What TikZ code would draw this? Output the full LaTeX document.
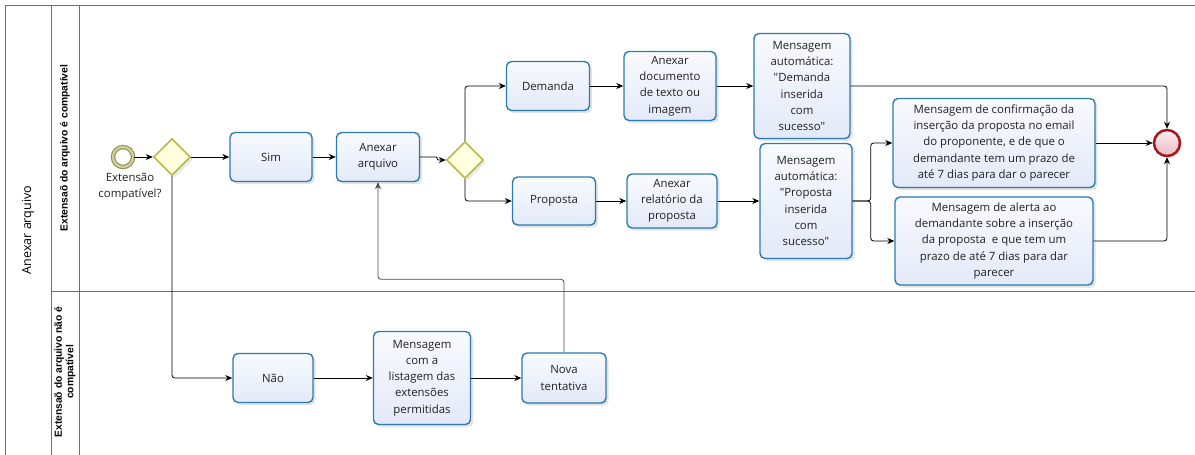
\documentclass[tikz,border=0pt]{standalone}
\usepackage{fontspec}
\setmainfont{Open Sans}
\newfontfamily\lanefont{Liberation Sans}
\usetikzlibrary{arrows.meta,shadows,shapes.geometric,calc}

\definecolor{taskborder}{HTML}{2B7BB0}
\definecolor{tasktop}{HTML}{F8FAFE}
\definecolor{taskbot}{HTML}{E3E9F8}
\definecolor{gwfill}{HTML}{FFFFE0}
\definecolor{gwborder}{HTML}{B3B333}
\definecolor{startborder}{HTML}{8E8E50}
\definecolor{startband}{HTML}{D2D2A0}
\definecolor{endborder}{HTML}{A01820}
\definecolor{endtop}{HTML}{FBEEF0}
\definecolor{endbot}{HTML}{EBBAC2}
\definecolor{laneline}{HTML}{6E6E6E}
\definecolor{txt}{HTML}{222222}
\definecolor{loopline}{HTML}{4A4A4A}

\tikzset{
  task/.style={draw=taskborder, line width=1.4pt, rounded corners=5pt,
    top color=tasktop, bottom color=taskbot,
    drop shadow={opacity=0.22, shadow xshift=2.5pt, shadow yshift=-2.5pt},
    align=center, font=\fontsize{11.4}{16.2}\selectfont, text=txt, inner sep=2pt},
  gateway/.style={diamond, aspect=1, draw=gwborder, line width=1.4pt, fill=gwfill,
    minimum width=37pt, minimum height=37pt, inner sep=0pt,
    drop shadow={opacity=0.18, shadow xshift=2.5pt, shadow yshift=-2.5pt}},
  startev/.style={circle, draw=startborder, line width=1.1pt, double=startband,
    double distance=2.2pt, fill=white, minimum size=20pt, inner sep=0pt},
  endev/.style={circle, draw=endborder, line width=2.5pt, top color=endtop,
    bottom color=endbot, minimum size=26pt, inner sep=0pt,
    drop shadow={opacity=0.2, shadow xshift=2pt, shadow yshift=-2pt}},
  flow/.style={draw=black, line width=0.8pt, rounded corners=3pt,
    -{Stealth[length=7pt,width=6pt]}},
  lane/.style={draw=laneline, line width=0.9pt},
  lanelabel/.style={rotate=90, font=\lanefont\bfseries\fontsize{10.3}{11.5}\selectfont,
    text=black, align=center},
}

\begin{document}
\begin{tikzpicture}[x=1pt,y=-1pt]
\useasboundingbox (0,0) rectangle (1195,455);

% pool and lanes
\draw[lane] (5,5) -- (1195,5);
\draw[lane] (5,5) -- (5,455);
\draw[lane] (51,5) -- (51,455);
\draw[lane] (79,5) -- (79,455);
\draw[lane] (51,291) -- (1195,291);
\node[rotate=90, font=\fontsize{12.5}{14}\selectfont, text=black] (pool) at (28,230) {Anexar arquivo};
\node[lanelabel] (lane1) at (65,148) {Extensaõ do arquivo é compatível};
\node[lanelabel] (lane2) at (65,372) {Extensaõ do arquivo não é\\compatível};

% events and gateways
\node[startev] (start) at (123,157) {};
\node[gateway] (gw1) at (172,157) {};
\node[align=center, font=\fontsize{11.4}{16}\selectfont, text=txt] (gwlabel) at (130,187) {Extensão\\compatível?};
\node[gateway] (gw2) at (465,160) {};
\node[endev] (end) at (1167,143) {};

% tasks
\node[task, minimum width=82pt, minimum height=49pt] (sim) at (271,157) {Sim};
\node[task, minimum width=83pt, minimum height=49pt] (anexar) at (378,157) {Anexar\\arquivo};
\node[task, minimum width=83pt, minimum height=49pt] (demanda) at (548,86) {Demanda};
\node[task, minimum width=92pt, minimum height=69pt] (anexdoc) at (670,86) {Anexar\\documento\\de texto ou\\imagem};
\node[task, minimum width=96pt, minimum height=105pt] (msgdem) at (802,86) {Mensagem\\automática:\\\textquotedbl Demanda\\inserida\\com\\sucesso\textquotedbl};
\node[task, minimum width=83pt, minimum height=48pt] (proposta) at (554,201) {Proposta};
\node[task, minimum width=90pt, minimum height=54pt] (anexrel) at (672,201) {Anexar\\relatório da\\proposta};
\node[task, minimum width=92pt, minimum height=115pt] (msgprop) at (806,201) {Mensagem\\automática:\\\textquotedbl Proposta\\inserida\\com\\sucesso\textquotedbl};
\node[task, minimum width=202pt, minimum height=89pt] (confirm) at (994,143) {Mensagem de confirmação da\\inserção da proposta no email\\do proponente, e de que o\\demandante tem um prazo de\\até 7 dias para dar o parecer};
\node[task, minimum width=198pt, minimum height=88pt] (alerta) at (994,241) {Mensagem de alerta ao\\demandante sobre a inserção\\da proposta \ e que tem um\\prazo de até 7 dias para dar\\parecer};
\node[task, minimum width=80pt, minimum height=49pt] (nao) at (273,378) {Não};
\node[task, minimum width=97pt, minimum height=93pt] (lista) at (422,378) {Mensagem\\com a\\listagem das\\extensões\\permitidas};
\node[task, minimum width=84pt, minimum height=50pt] (nova) at (564,378) {Nova\\tentativa};

% sequence flows
\draw[flow] (start) -- (gw1);
\draw[flow] (gw1) -- (sim);
\draw[flow] (gw1.south) |- (nao);
\draw[flow] (sim) -- (anexar);
\draw[flow, rounded corners=1pt] (anexar.east) -- ++(17,0) |- (gw2.west);
\draw[flow] (gw2.north) |- (demanda);
\draw[flow] (gw2.south) |- (proposta);
\draw[flow] (demanda) -- (anexdoc);
\draw[flow] (anexdoc) -- (msgdem);
\draw[flow] (msgdem.east) -| (end.north);
\draw[flow] (proposta) -- (anexrel);
\draw[flow] (anexrel) -- (msgprop);
\draw[flow] (msgprop.east) -- ++(18,0) |- (confirm.west);
\draw[flow] (msgprop.east) -- ++(18,0) |- (alerta.west);
\draw[flow] (confirm) -- (end);
\draw[flow] (alerta.east) -| (end.south);
\draw[flow] (nao) -- (lista);
\draw[flow] (lista) -- (nova);
\draw[flow, draw=loopline] (nova.north) -- ++(0,-73) -| (anexar.south);
\end{tikzpicture}
\end{document}
